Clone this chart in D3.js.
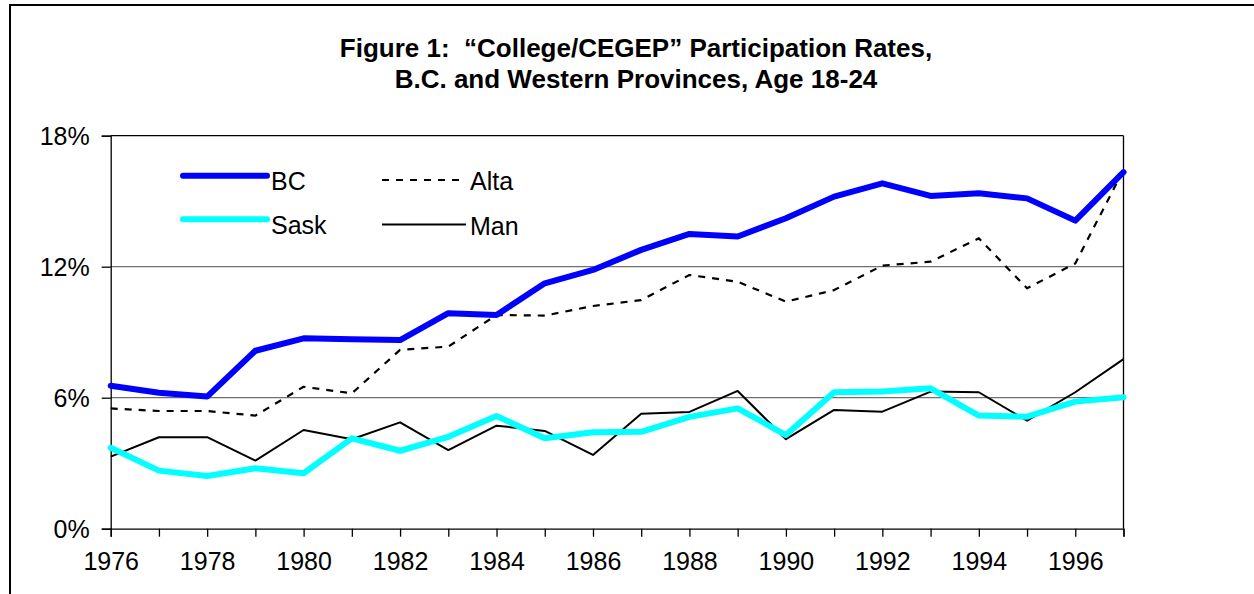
<!DOCTYPE html>
<html>
<head>
<meta charset="utf-8">
<script src="https://cdn.jsdelivr.net/npm/d3@7"></script>
<style>
  html, body { margin: 0; padding: 0; background: #fff; overflow: hidden; }
  svg { display: block; }
  svg text { font-family: "Liberation Sans", Arial, sans-serif; fill: #000; white-space: pre; }
</style>
</head>
<body>
<svg id="chart" width="1254" height="594"></svg>
<script>
// data (percent of age 18-24)
const years = d3.range(1976, 1998);
const bc   = [6.55, 6.23, 6.05, 8.15, 8.72, 8.68, 8.64, 9.87, 9.79, 11.24, 11.85, 12.77, 13.5, 13.38, 14.22, 15.21, 15.82, 15.24, 15.36, 15.13, 14.11, 16.33];
const alta = [5.51, 5.39, 5.39, 5.18, 6.5, 6.2, 8.19, 8.34, 9.79, 9.76, 10.2, 10.47, 11.62, 11.31, 10.4, 10.93, 12.05, 12.23, 13.3, 11.01, 12.15, 16.43];
const sask = [3.71, 2.66, 2.41, 2.77, 2.54, 4.14, 3.57, 4.21, 5.16, 4.14, 4.42, 4.44, 5.12, 5.51, 4.29, 6.25, 6.28, 6.43, 5.18, 5.13, 5.82, 6.02];
const man  = [3.3, 4.19, 4.19, 3.12, 4.52, 4.1, 4.87, 3.6, 4.72, 4.48, 3.38, 5.27, 5.35, 6.31, 4.1, 5.44, 5.36, 6.28, 6.25, 4.95, 6.25, 7.77];
const yTicks = [0, 6, 12, 18];
const xLabelYears = d3.range(1976, 1997, 2);

const series = [
  {name: "Alta", values: alta, color: "#000", width: 2.2, dash: "7,7"},
  {name: "Man",  values: man,  color: "#000", width: 2, dash: null},
  {name: "Sask", values: sask, color: "#00FFFF", width: 6, dash: null},
  {name: "BC",   values: bc,   color: "#0000FF", width: 6, dash: null}
];

const svg = d3.select("#chart");

// outer frame (right and bottom edges fall outside the picture)
svg.append("path")
    .attr("d", "M10,600 V5 H1254")
    .attr("fill", "none").attr("stroke", "#000").attr("stroke-width", 2);

// title
const title = svg.append("text")
    .attr("text-anchor", "middle")
    .attr("font-size", "26px")
    .attr("font-weight", "bold");
title.append("tspan").attr("x", 636).attr("y", 57).text("Figure 1:  \u201CCollege/CEGEP\u201D Participation Rates,");
title.append("tspan").attr("x", 636).attr("y", 88).text("B.C. and Western Provinces, Age 18-24");

const x0 = 110.7, x1 = 1123.5, yTop = 135.7, yBot = 528.7;
const x = d3.scaleLinear().domain([1976, 1997]).range([x0, x1]);
const y = d3.scaleLinear().domain([0, 18]).range([yBot, yTop]);

// gridlines
svg.append("g").selectAll("line")
    .data(yTicks.filter(d => d > 0))
    .enter().append("line")
    .attr("x1", x0).attr("x2", x1)
    .attr("y1", d => y(d)).attr("y2", d => y(d))
    .attr("stroke", d => d === 18 ? "#000" : "#707070")
    .attr("stroke-width", 1.3);

// right border of plot
svg.append("line")
    .attr("x1", x1).attr("x2", x1).attr("y1", yTop).attr("y2", yBot)
    .attr("stroke", "#000").attr("stroke-width", 1.3);

// y axis
const yAxis = svg.append("g")
    .attr("transform", `translate(${x0},0)`)
    .call(d3.axisLeft(y).tickValues(yTicks).tickFormat(d => d + "%").tickSize(9).tickPadding(12));
yAxis.select(".domain").attr("stroke-width", 1.3);
yAxis.selectAll(".tick line").attr("stroke-width", 1.3);
yAxis.selectAll("text").attr("font-size", "25px").attr("font-family", null).attr("dy", "0.36em");

// x axis
const xAxis = svg.append("g")
    .attr("transform", `translate(0,${yBot})`)
    .call(d3.axisBottom(x).tickValues(years).tickFormat(d => xLabelYears.includes(d) ? d : "").tickSize(8).tickPadding(16));
xAxis.select(".domain").attr("stroke-width", 1.3);
xAxis.selectAll(".tick line").attr("stroke-width", 1.3);
xAxis.selectAll("text").attr("font-size", "25px").attr("font-family", null);

// lines
const line = d3.line()
    .x((d, i) => x(years[i]))
    .y(d => y(d));

svg.append("g").selectAll("path")
    .data(series)
    .enter().append("path")
    .attr("d", d => line(d.values))
    .attr("fill", "none")
    .attr("stroke", d => d.color)
    .attr("stroke-width", d => d.width)
    .attr("stroke-dasharray", d => d.dash)
    .attr("stroke-linejoin", "round")
    .attr("stroke-linecap", d => d.width > 3 ? "round" : "butt");

// legend
const legendItems = [
  {s: series[3], lx: 183, ly: 175.7},
  {s: series[0], lx: 382, ly: 180},
  {s: series[2], lx: 183, ly: 219.3},
  {s: series[1], lx: 382, ly: 224.5}
];
const legend = svg.append("g");
legend.selectAll("line")
    .data(legendItems)
    .enter().append("line")
    .attr("x1", d => d.lx).attr("x2", d => d.lx + 84)
    .attr("y1", d => d.ly).attr("y2", d => d.ly)
    .attr("stroke", d => d.s.color)
    .attr("stroke-width", d => d.s.width)
    .attr("stroke-dasharray", d => d.s.dash)
    .attr("stroke-linecap", d => d.s.width > 3 ? "round" : "butt");
legend.selectAll("text")
    .data(legendItems)
    .enter().append("text")
    .attr("x", d => d.lx + 88)
    .attr("y", d => d.ly + (d.s.width > 3 ? 14.5 : 10))
    .attr("font-size", "25px")
    .text(d => d.s.name);
</script>
</body>
</html>
